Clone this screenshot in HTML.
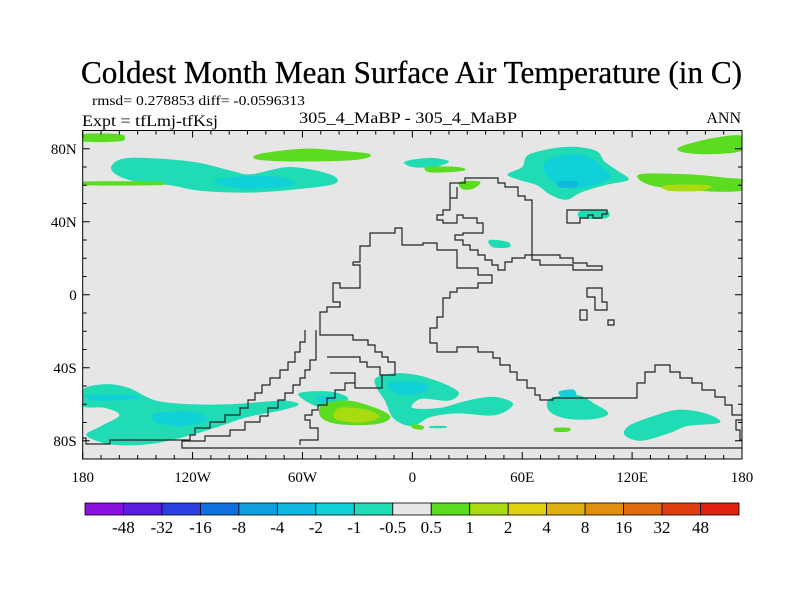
<!DOCTYPE html>
<html><head><meta charset="utf-8"><style>
html,body{margin:0;padding:0;background:#fff;}
svg text{font-family:"Liberation Serif",serif;fill:#000;}
</style></head><body>
<svg id="chart" width="800" height="600" viewBox="0 0 800 600" xmlns="http://www.w3.org/2000/svg">
<text x="81" y="83" font-size="32" stroke="#000" stroke-width="0.3" textLength="661" lengthAdjust="spacingAndGlyphs">Coldest Month Mean Surface Air Temperature (in C)</text>
<text x="92" y="105" font-size="14" textLength="213" lengthAdjust="spacingAndGlyphs">rmsd= 0.278853 diff= -0.0596313</text>
<text x="82" y="126" font-size="16" textLength="136" lengthAdjust="spacingAndGlyphs">Expt = tfLmj-tfKsj</text>
<text x="299" y="123" font-size="16" textLength="218" lengthAdjust="spacingAndGlyphs">305_4_MaBP - 305_4_MaBP</text>
<text x="741" y="123" font-size="16" text-anchor="end">ANN</text>
<clipPath id="plotclip"><rect x="82.7" y="130.5" width="659.3" height="328.5"/></clipPath>
<rect x="82.7" y="130.5" width="659.3" height="328.5" fill="#e6e6e6"/>
<g id="contours" clip-path="url(#plotclip)"></g>
<g fill="none" stroke="#222" stroke-width="1.2" clip-path="url(#plotclip)">
<polyline points="353,262 360,262 360,246 370,246 370,233 395,233 395,228 402,228 402,245 423,245 423,243 437,243 437,250 457,250 457,268 478,268 478,275 492,275 492,283 478,283 478,288 457,288 457,292 450,292 450,298 443,298 443,317 437,317 437,328 430,328 430,343 437,343 437,352 457,352 457,347 478,347 478,352 493,352 493,358 500,358 500,365 510,365 510,372 517,372 517,380 527,380 527,388 535,388 535,395 540,395 540,400 553,400 553,398 637,398 637,383 645,383 645,372 655,372 655,365 670,365 670,372 680,372 680,378 692,378 692,383 702,383 702,390 715,390 715,397 725,397 725,405 732,405 732,415 742,415"/>
<polyline points="353,262 353,265 360,265 360,288 340,288 340,283 333,283 333,302 340,302 340,307 327,307 327,312 320,312 320,335 353,335 353,340 368,340 368,345 375,345 375,352 382,352 382,357 388,357 388,362 395,362 395,375 382,375"/>
<polyline points="305,330 305,342 300,342 300,352 295,352 295,362 288,362 288,370 280,370 280,378 270,378 270,385 262,385 262,393 255,393 255,400 248,400 248,408 240,408 240,415 225,415 225,422 210,422 210,428 195,428 195,435 190,435 190,440 110,440 110,444 86,444 86,438 82,438"/>
<polyline points="316,330 316,360 310,360 310,370 305,370 305,378 300,378 300,385 293,385 293,393 285,393 285,400 278,400 278,408 268,408 268,416 260,416 260,422 245,422 245,430 230,430 230,436 205,436 205,441 182,441 182,448 742,448"/>
<polyline points="327,357 360,357 360,362 367,362 367,367 380,367 380,375 382,375 382,388 355,388 355,383 345,383 345,390 335,390 335,398 327,398 327,405 318,405 318,410 312,410 312,415 305,415 305,420 310,420 310,428 318,428 318,440 300,440 300,445"/>
<polyline points="330,373 355,373 355,383"/>
<polyline points="450,198 450,183 465,183 465,178 498,178 498,183 505,183 505,187 518,187 518,196 525,196 525,200 532,200 532,255 532,260 540,260 540,265 573,265 573,270 602,270 602,266 587,266 587,263 573,263 573,258 560,258 560,255 525,255 525,258 512,258 512,262 505,262 505,270 498,270 498,265 492,265 492,260 485,260 485,255 478,255 478,250 470,250 470,245 463,245 463,240 455,240 455,235 463,235 463,233 483,233 483,223 477,223 477,218 463,218 463,215 457,215 457,223 443,223 443,220 437,220 437,215 443,215 443,210 450,210 450,198 457,198 457,187"/>
<polygon points="567,210 607,210 607,214 602,214 602,218 593,218 593,215 588,215 588,218 580,218 580,223 567,223"/>
<polygon points="587,288 602,288 602,302 607,302 607,310 595,310 595,297 587,297"/>
<polygon points="580,310 587,310 587,320 580,320"/>
<polygon points="608,320 614,320 614,325 608,325"/>
<polyline points="742,420 736,420 736,430 740,430 740,440 742,440"/>
</g>
<rect x="82.7" y="130.5" width="659.3" height="328.5" fill="none" stroke="#000" stroke-width="1"/>
<g id="ticks" stroke="#000" stroke-width="1"></g>
<g id="labels"></g>
<g id="colorbar"></g>
</svg>
<script>
// Colour-bar data
const levels = ["-48","-32","-16","-8","-4","-2","-1","-0.5","0.5","1","2","4","8","16","32","48"];
const levelValues = [-48,-32,-16,-8,-4,-2,-1,-0.5,0.5,1,2,4,8,16,32,48];
const binColors = ["#8a10e0","#5a1ee0","#2a40e0","#1070e0","#10a0e0","#10b8e0","#10d0d8","#20dcb4","#e6e6e6","#5cdc20","#a8dc10","#e0d010","#e0b010","#e09010","#e06a10","#e03e10","#e02010"];
// Axis tick labels
const lonTicks = [-180,-120,-60,0,60,120,180];
const lonTickLabels = ["180","120W","60W","0","60E","120E","180"];
const latTicks = [80,40,0,-40,-80];
const latTickLabels = ["80N","40N","0","40S","80S"];
// Contour regions: level bin value + lon/lat outlines
const blobValues = [-0.7,-1.5,0.7,0.7,0.7,-0.7,0.7,0.7,-0.7,-1.5,-3,0.7,1.5,0.7,-0.7,-0.7,-0.7,-1.5,-1.5,-0.7,-1.5,0.7,1.5,-0.7,-1.5,-0.7,-1.5,-0.7,0.7,0.7,-0.7];
const blobOutlines = [
 [[-164,71],[-154,75],[-121,73],[-99,68],[-88,66],[-67,70],[-45,66],[-42,61],[-61,58],[-88,56],[-116,57],[-132,60],[-151,62],[-162,66]],
 [[-108,63],[-88,65],[-70,64],[-65,60],[-85,58],[-100,59]],
 [[-180,88],[-160,88],[-157,86],[-160,84],[-180,84]],
 [[-180,62],[-140,62],[-136,61],[-140,60],[-180,60]],
 [[-84,77],[-60,80],[-40,79],[-23,77],[-30,74],[-60,73],[-84,74]],
 [[-4,73],[10,75],[20,73],[12,70],[0,70]],
 [[8,70],[25,70],[28,68],[10,67]],
 [[26,62],[37,62],[33,58],[27,58]],
 [[64,77],[84,81],[100,79],[105,73],[112,68],[118,63],[105,60],[92,56],[84,52],[75,55],[68,60],[58,63],[52,66],[60,70]],
 [[74,74],[92,77],[104,70],[108,64],[95,59],[82,59],[73,66]],
 [[80,62],[90,62],[89,59],[80,59]],
 [[124,66],[150,66],[172,64],[180,63],[180,57],[155,57],[130,60]],
 [[138,60],[162,60],[158,57],[140,57]],
 [[146,81],[165,86],[180,87],[180,79],[162,77],[148,78]],
 [[92,46],[106,46],[106,42],[92,42]],
 [[42,30],[52,29],[53,26],[44,26]],
 [[-180,-52],[-168,-49],[-155,-51],[-140,-58],[-120,-60],[-100,-60],[-85,-59],[-70,-58],[-62,-60],[-70,-63],[-90,-67],[-105,-72],[-125,-78],[-145,-82],[-165,-82],[-178,-77],[-170,-72],[-160,-66],[-168,-62],[-180,-61]],
 [[-178,-55],[-155,-55],[-150,-57],[-172,-58]],
 [[-140,-65],[-120,-64],[-112,-68],[-125,-72],[-140,-70]],
 [[-62,-54],[-45,-53],[-35,-57],[-45,-62],[-55,-60]],
 [[-52,-56],[-44,-56],[-42,-59],[-50,-59]],
 [[-49,-60],[-35,-58],[-20,-62],[-12,-67],[-20,-71],[-40,-71],[-50,-67]],
 [[-40,-62],[-25,-63],[-18,-67],[-28,-70],[-42,-68]],
 [[-19,-45],[-5,-43],[10,-46],[25,-53],[20,-58],[5,-57],[0,-62],[15,-62],[30,-58],[45,-56],[55,-60],[45,-66],[25,-65],[10,-67],[0,-72],[-10,-68],[-15,-58],[-20,-50]],
 [[-12,-48],[5,-48],[8,-53],[-5,-55],[-12,-52]],
 [[75,-57],[90,-55],[100,-60],[107,-65],[100,-68],[85,-68],[75,-64]],
 [[80,-53],[88,-52],[89,-56],[82,-56]],
 [[118,-72],[130,-67],[145,-63],[160,-65],[168,-70],[150,-72],[140,-76],[125,-80],[116,-77]],
 [[0,-71],[6,-72],[5,-74],[0,-73]],
 [[78,-73],[86,-73],[85,-75],[78,-75]],
 [[10,-72],[18,-72],[18,-73],[10,-73]]
];
const X0=82.7, X1=742, Y0=130.5, Y1=459;
function xScale(lon){return X0+(lon+180)*(X1-X0)/360;}
function yScale(lat){return Y0+(90-lat)*(Y1-Y0)/180;}
function colorFor(v){let i=0;while(i<levelValues.length&&v>=levelValues[i])i++;return binColors[i];}
function smoothPath(P){
  const n=P.length;let d='M'+P[0][0].toFixed(1)+','+P[0][1].toFixed(1);
  for(let i=0;i<n;i++){
    const p0=P[(i-1+n)%n],p1=P[i],p2=P[(i+1)%n],p3=P[(i+2)%n];
    const c1=[p1[0]+(p2[0]-p0[0])/6,p1[1]+(p2[1]-p0[1])/6];
    const c2=[p2[0]-(p3[0]-p1[0])/6,p2[1]-(p3[1]-p1[1])/6];
    d+='C'+c1[0].toFixed(1)+','+c1[1].toFixed(1)+' '+c2[0].toFixed(1)+','+c2[1].toFixed(1)+' '+p2[0].toFixed(1)+','+p2[1].toFixed(1);
  }
  return d+'Z';
}
const NS="http://www.w3.org/2000/svg";
const cg=document.getElementById('contours');
blobOutlines.forEach((pts,k)=>{
  const p=document.createElementNS(NS,'path');
  p.setAttribute('d',smoothPath(pts.map(q=>[xScale(q[0]),yScale(q[1])])));
  p.setAttribute('fill',colorFor(blobValues[k]));
  
  
  cg.appendChild(p);
});
const tg=document.getElementById('ticks');
function line(x1,y1,x2,y2){const l=document.createElementNS(NS,'line');l.setAttribute('x1',x1);l.setAttribute('y1',y1);l.setAttribute('x2',x2);l.setAttribute('y2',y2);tg.appendChild(l);}
for(let lon=-180;lon<=180;lon+=10){const x=xScale(lon);const L=(lon%60===0)?7:4;line(x,Y1,x,Y1-L);line(x,Y0,x,Y0+L);}
for(let lat=-90;lat<=90;lat+=10){if(Math.abs(lat)==90)continue;const y=yScale(lat);const L=(lat%40===0)?7:4;line(X0,y,X0+L,y);line(X1,y,X1-L,y);}
const lg=document.getElementById('labels');
function txt(x,y,s,anchor,size,name){const t=document.createElementNS(NS,'text');t.setAttribute('x',x);t.setAttribute('y',y);t.setAttribute('text-anchor',anchor);t.setAttribute('font-size',size);t.textContent=s;
  
  
  return t;}
lonTicks.forEach((v,i)=>{lg.appendChild(txt(xScale(v),482,lonTickLabels[i],'middle',15,'x-tick-label'));});
latTicks.forEach((v,i)=>{lg.appendChild(txt(X0-6,yScale(v)+5,latTickLabels[i],'end',15,'y-tick-label'));});
const cb=document.getElementById('colorbar');
const CB0=85, CB1=739, CBY=503, CBH=12, bw=(CB1-CB0)/binColors.length;
binColors.forEach((c,i)=>{const r=document.createElementNS(NS,'rect');r.setAttribute('x',CB0+i*bw);r.setAttribute('y',CBY);r.setAttribute('width',bw);r.setAttribute('height',CBH);r.setAttribute('fill',c);r.setAttribute('stroke','#000');r.setAttribute('stroke-width','0.8');
  
  
  cb.appendChild(r);});
levels.forEach((s,i)=>{cb.appendChild(txt(CB0+(i+1)*bw,533,s,'middle',17,'colorbar-label'));});
</script>
</body></html>
